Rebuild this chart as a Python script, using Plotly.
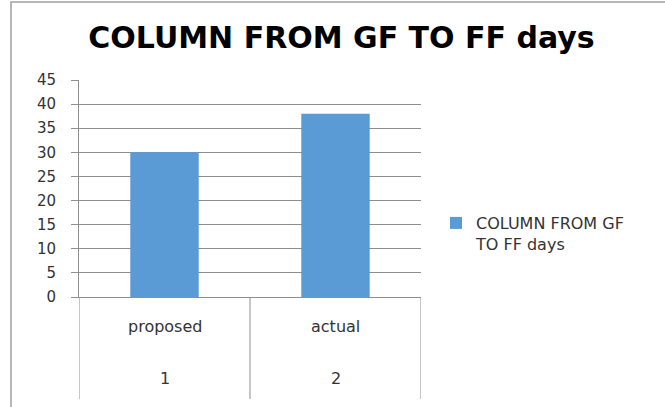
import plotly.graph_objects as go

# Data
categories = ["proposed", "actual"]
group_labels = ["1", "2"]
values = [30, 38]
series_name = "COLUMN FROM GF TO FF days"
y_ticks = [0, 5, 10, 15, 20, 25, 30, 35, 40, 45]

W, H = 665, 407
L, R, T, B = 79, 244, 80, 110
plot_w, plot_h = W - L - R, H - T - B

def py(px):
    # pixel y -> paper y
    return (H - B - px) / plot_h

def pxp(px):
    return (px - L) / plot_w

fig = go.Figure()
fig.add_trace(go.Bar(
    x=categories, y=values, name="COLUMN FROM GF<br>TO FF days",
    marker=dict(color="#5B9BD5", line=dict(width=0)),
    showlegend=True,
))

grid_col = "#8E8E8E"
fig.update_layout(
    width=W, height=H,
    margin=dict(l=L, r=R, t=T, b=B),
    paper_bgcolor="white", plot_bgcolor="white",
    bargap=0.6,
    title=dict(text="<b>" + series_name + "</b>", x=341.5 / W, xanchor="center",
               y=1 - 37 / H, yanchor="middle",
               font=dict(family="DejaVu Sans", size=30, color="#000000")),
    font=dict(family="DejaVu Sans", color="#333333"),
    showlegend=True,
    legend=dict(x=pxp(436), xanchor="left", y=py(206), yanchor="top",
                valign="top", font=dict(family="DejaVu Sans", size=16, color="#333333"),
                bgcolor="rgba(0,0,0,0)", itemwidth=30),
    xaxis=dict(type="category", showticklabels=False, showline=True,
               linecolor=grid_col, linewidth=1, ticks="", showgrid=False,
               range=[-0.5, 1.5], fixedrange=True),
    yaxis=dict(range=[0, 45], tickvals=y_ticks, showgrid=True, gridcolor=grid_col,
               gridwidth=1, showline=True, linecolor=grid_col, linewidth=1,
               ticks="outside", ticklen=7, tickcolor=grid_col, ticklabelstandoff=12,
               tickfont=dict(family="DejaVu Sans", size=15, color="#333333"),
               zeroline=False, fixedrange=True),
)

# category dividers
for xv in [-0.5, 0.5, 1.5]:
    fig.add_shape(type="line", xref="x", yref="paper", x0=xv, x1=xv,
                  y0=0, y1=py(399), line=dict(color=grid_col, width=1))

# multi-level category labels
for i, (c, g) in enumerate(zip(categories, group_labels)):
    fig.add_annotation(x=c, xref="x", y=py(326.7), yref="paper", text=c,
                       showarrow=False, yanchor="middle",
                       font=dict(family="DejaVu Sans", size=16, color="#333333"))
    fig.add_annotation(x=c, xref="x", y=py(378.3), yref="paper", text=g,
                       showarrow=False, yanchor="middle",
                       font=dict(family="DejaVu Sans", size=16, color="#333333"))

# chart border
fig.add_shape(type="rect", xref="paper", yref="paper",
              x0=pxp(11), x1=pxp(680), y0=py(2), y1=py(420),
              line=dict(color="#A0A0A0", width=1.5), layer="below")

fig.write_html("out.html", config={"displayModeBar": False},
               post_script="document.body.style.margin='0';document.body.style.overflow='hidden';")
